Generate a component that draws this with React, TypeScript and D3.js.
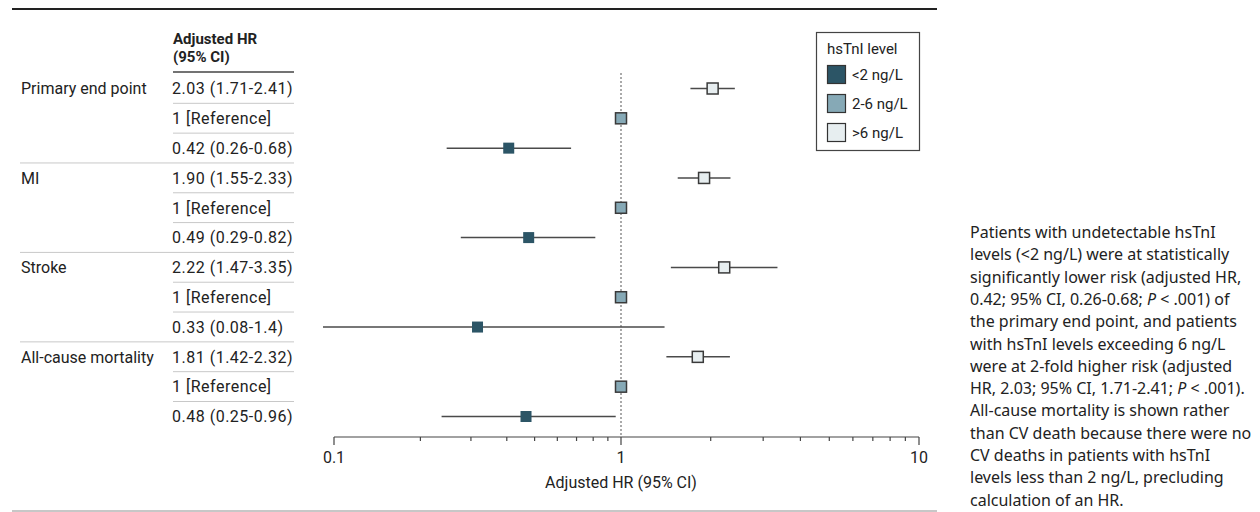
import React from "react";
import * as d3 from "d3";

const groups = ["Primary end point", "MI", "Stroke", "All-cause mortality"];
const levels = ["<2 ng/L", "2-6 ng/L", ">6 ng/L"];
const levelColors = ["#2c5566", "#86a9b6", "#e7eef0"];
// rows within each group, top to bottom: >6, 2-6, <2
const rowLevel = [2, 1, 0];
const hr = [
  [2.03, 1, 0.42],
  [1.9, 1, 0.49],
  [2.22, 1, 0.33],
  [1.81, 1, 0.48],
];
const ciLo = [
  [1.71, null, 0.26],
  [1.55, null, 0.29],
  [1.47, null, 0.08],
  [1.42, null, 0.25],
];
const ciHi = [
  [2.41, null, 0.68],
  [2.33, null, 0.82],
  [3.35, null, 1.4],
  [2.32, null, 0.96],
];
const hrText = [
  ["2.03 (1.71-2.41)", "1 [Reference]", "0.42 (0.26-0.68)"],
  ["1.90 (1.55-2.33)", "1 [Reference]", "0.49 (0.29-0.82)"],
  ["2.22 (1.47-3.35)", "1 [Reference]", "0.33 (0.08-1.4)"],
  ["1.81 (1.42-2.32)", "1 [Reference]", "0.48 (0.25-0.96)"],
];
const majorTicks = [0.1, 1, 10];
const minorTicks = [0.2, 0.3, 0.4, 0.5, 0.6, 0.7, 0.8, 0.9, 2, 3, 4, 5, 6, 7, 8, 9];
const noteLines = [
  ["Patients with undetectable hsTnI"],
  ["levels (<2 ng/L) were at statistically"],
  ["significantly lower risk (adjusted HR,"],
  ["0.42; 95% CI, 0.26-0.68; ", "P", " < .001) of"],
  ["the primary end point, and patients"],
  ["with hsTnI levels exceeding 6 ng/L"],
  ["were at 2-fold higher risk (adjusted"],
  ["HR, 2.03; 95% CI, 1.71-2.41; ", "P", " < .001)."],
  ["All-cause mortality is shown rather"],
  ["than CV death because there were no"],
  ["CV deaths in patients with hsTnI"],
  ["levels less than 2 ng/L, precluding"],
  ["calculation of an HR."],
];

const FONT = "Roboto, 'Noto Sans', sans-serif";
const NOTE_FONT = "'Noto Sans', sans-serif";

export default function App() {
  const W = 1260;
  const H = 512;
  const nRows = groups.length * 3;
  const y = d3.scaleLinear().domain([0, nRows - 1]).range([88.5, 416.5]);
  const x = d3.scaleLog().domain([0.1, 10]).range([323, 919]).clamp(true);
  const xAxis = d3.scaleLog().domain([0.1, 1, 10]).range([334, 621, 919]);
  const axisY = 437;
  const colVal = 172;
  const colGrp = 21;
  const tableRight = 294;

  const rows: any[] = [];
  groups.forEach((g, gi) => {
    for (let r = 0; r < 3; r++) {
      rows.push({ gi, r, idx: gi * 3 + r });
    }
  });

  return (
    <svg
      width={W}
      height={H}
      style={{ position: "absolute", left: 0, top: 0, fontFamily: FONT }}
    >
      <line x1={12} x2={937} y1={9} y2={9} stroke="#222" strokeWidth={2} />
      <line x1={12} x2={937} y1={511} y2={511} stroke="#b5b5b5" strokeWidth={1.5} />

      {/* table header */}
      <text x={colVal + 1} y={44} fontSize={15} fontWeight="bold" fill="#222">Adjusted HR</text>
      <text x={colVal + 1} y={62} fontSize={15} fontWeight="bold" fill="#222">(95% CI)</text>
      <line x1={colVal + 1} x2={tableRight} y1={72} y2={72} stroke="#444" strokeWidth={1.5} />

      {/* separators */}
      {rows.slice(1).map((row) => (
        <line
          key={"sep" + row.idx}
          x1={row.r === 0 ? colGrp - 1 : colVal + 1}
          x2={tableRight}
          y1={y(row.idx) - 15}
          y2={y(row.idx) - 15}
          stroke="#c8c8c8"
          strokeWidth={1}
        />
      ))}

      {/* group labels */}
      {groups.map((g, gi) => (
        <text key={g} x={colGrp} y={y(gi * 3)} dy="0.36em" fontSize={16} fill="#222">
          {g}
        </text>
      ))}
      {rows.map((row) => (
        <text
          key={"v" + row.idx}
          x={colVal}
          y={y(row.idx)}
          dy="0.36em"
          fontSize={16}
          letterSpacing={0.5}
          fill="#222"
        >
          {hrText[row.gi][row.r]}
        </text>
      ))}

      {/* reference line */}
      <line
        x1={x(1)}
        x2={x(1)}
        y1={73}
        y2={axisY}
        stroke="#aaa"
        strokeWidth={2}
        strokeDasharray="2,2"
      />

      {/* CI lines */}
      {rows.map((row) => {
        const lo = ciLo[row.gi][row.r];
        const hi = ciHi[row.gi][row.r];
        if (lo == null || hi == null) return null;
        return (
          <line
            key={"ci" + row.idx}
            x1={x(lo)}
            x2={x(hi)}
            y1={y(row.idx)}
            y2={y(row.idx)}
            stroke="#4a4a4a"
            strokeWidth={1.5}
          />
        );
      })}
      {/* markers */}
      {rows.map((row) => {
        const lv = rowLevel[row.r];
        const s = 11;
        return (
          <rect
            key={"m" + row.idx}
            x={x(hr[row.gi][row.r]) - s / 2}
            y={y(row.idx) - s / 2}
            width={s}
            height={s}
            fill={levelColors[lv]}
            stroke={lv === 0 ? "none" : "#3a3a3a"}
            strokeWidth={1.5}
          />
        );
      })}

      {/* axis */}
      <line x1={xAxis(0.1)} x2={xAxis(10)} y1={axisY} y2={axisY} stroke="#444" strokeWidth={1.2} />
      {majorTicks.map((t) => (
        <g key={"M" + t}>
          <line x1={xAxis(t)} x2={xAxis(t)} y1={axisY} y2={axisY + 8} stroke="#444" strokeWidth={1.2} />
          <text x={xAxis(t)} y={axisY + 26} textAnchor="middle" fontSize={16} fill="#222">
            {t}
          </text>
        </g>
      ))}
      {minorTicks.map((t) => (
        <line key={"m" + t} x1={xAxis(t)} x2={xAxis(t)} y1={axisY} y2={axisY + 4} stroke="#444" strokeWidth={1.2} />
      ))}
      <text x={xAxis(1)} y={488} textAnchor="middle" fontSize={16} fill="#222">
        Adjusted HR (95% CI)
      </text>

      {/* legend */}
      <rect x={816.5} y={32.5} width={103} height={118} fill="#fff" stroke="#444" strokeWidth={1.2} />
      <text x={827} y={54} fontSize={15} fill="#222">hsTnI level</text>
      {levels.map((l, i) => (
        <g key={l}>
          <rect
            x={827.5}
            y={65.5 + i * 29}
            width={18}
            height={18}
            fill={levelColors[i]}
            stroke="#333"
            strokeWidth={1.2}
          />
          <text x={852} y={74.5 + i * 29} dy="0.36em" fontSize={15} fill="#222">
            {l}
          </text>
        </g>
      ))}

      {/* note */}
      <text fontSize={16} fill="#222" fontFamily={NOTE_FONT}>
        {noteLines.map((parts, i) => (
          <tspan key={i} x={970} y={238 + i * 22.3}>
            {parts.map((p, j) =>
              p === "P" ? (
                <tspan key={j} fontStyle="italic">P</tspan>
              ) : (
                <tspan key={j}>{p}</tspan>
              )
            )}
          </tspan>
        ))}
      </text>
    </svg>
  );
}
